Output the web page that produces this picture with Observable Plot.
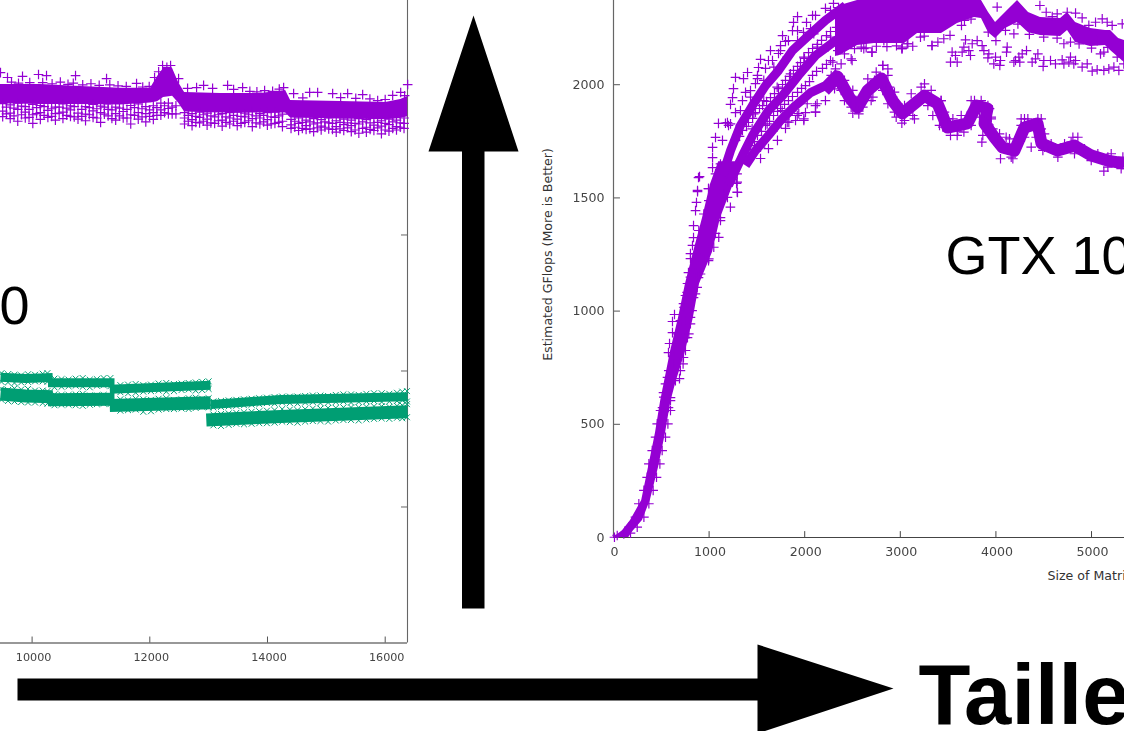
<!DOCTYPE html>
<html>
<head>
<meta charset="utf-8">
<script src="https://cdn.jsdelivr.net/npm/d3@7"></script>
<script src="https://cdn.jsdelivr.net/npm/@observablehq/plot@0.6"></script>
<style>
html,body{margin:0;padding:0;background:#fff;width:1124px;height:731px;overflow:hidden}
#page{position:relative;width:1124px;height:731px;overflow:hidden}
#page svg{position:absolute;left:0;top:0}
</style>
</head>
<body>
<div id="page"></div>
<script>
const violet = "#9400D3", green = "#009E73";
const axisInk = "#444";

// ---- left panel values
const leftXTicks = [10000, 12000, 14000, 16000];
const leftYTicks = [500, 1000, 1500];
// [size, upper edge, lower edge] of the solid violet band
const leftCore = [
  [9463,2053,1982],[10143,2053,1980],[10823,2046,1980],[11503,2039,1978],[12013,2039,1985],
  [12132,2083,1990],[12234,2112,2005],[12387,2112,2010],[12489,2061,1985],[12591,2024,1952],
  [13203,2020,1948],[13883,2020,1948],[14308,2031,1948],[14393,1994,1930],[15243,1991,1926],
  [16008,1987,1924],[16263,1998,1928],[16382,2009,1935]
];
const leftTopMarks = [
  [9463,2097],[9582,2079],[9650,2062],[9769,2058],[9837,2083],[9960,2060],[10109,2090],[10245,2086],
  [10180,2060],[10340,2056],[10480,2062],[10610,2054],[10738,2086],[10700,2058],[10860,2052],[11000,2056],
  [11140,2050],[11265,2075],[11320,2052],[11460,2048],[11600,2046],[11775,2057],[11880,2044],[11990,2046],
  [12081,2079],[12150,2100],[12217,2123],[12353,2123],[12290,2116],[12489,2075],[12642,2039],[12795,2042],
  [12914,2050],[13067,2039],[13322,2050],[13424,2035],[13577,2042],[13700,2028],[13820,2026],[13951,2031],
  [14087,2028],[14200,2036],[14274,2042],[14444,2020],[14716,2024],[14852,2024],[14600,2004],[15107,2020],
  [15243,2005],[15362,2020],[15500,2002],[15617,2016],[15740,2000],[15872,1994],[16000,1998],[16127,2013],
  [16263,2024],[16330,2012],[16382,2053]
];
// [size, gflops...] columns of marks below the solid band
const leftLowColumns = [
  [9500,1983,1955,1935],[9628,1978,1948,1928],[9756,1985,1962,1918],[9884,1972,1952,1930],
  [10012,1980,1942,1910],[10140,1976,1950,1925],[10268,1984,1958,1932],[10396,1970,1946,1922],
  [10524,1982,1952,1928],[10652,1975,1960,1936],[10780,1986,1948,1926],[10908,1972,1944,1920],
  [11036,1980,1956,1932],[11164,1974,1950,1914],[11292,1982,1962,1938],[11420,1970,1946,1922],
  [11548,1984,1954,1930],[11676,1976,1942,1908],[11804,1982,1950,1926],[11932,1972,1946,1916],
  [12060,1975,1950,1925],[12188,1985,1960,1940],[12316,1985,1965,1945],[12444,1975,1945],
  [12590,1950,1930,1908],[12718,1946,1924,1902],[12846,1952,1932,1912],[12974,1948,1926,1904],
  [13102,1954,1934,1910],[13230,1946,1922,1900],[13358,1950,1930,1908],[13486,1952,1926,1902],
  [13614,1948,1934,1914],[13742,1954,1928,1898],[13870,1946,1930,1908],[13998,1950,1924,1904],
  [14126,1952,1932,1910],[14254,1944,1918,1898],
  [14400,1925,1905,1892],[14528,1930,1910,1884],[14656,1922,1902,1888],[14784,1928,1908,1880],
  [14912,1924,1900,1886],[15040,1930,1912,1890],[15168,1920,1898,1878],[15296,1926,1906,1884],
  [15424,1922,1902,1880],[15552,1928,1908,1874],[15680,1924,1896,1878],[15808,1930,1904,1884],
  [15936,1920,1900,1872],[16064,1926,1906,1882],[16192,1922,1898,1886],[16320,1930,1910,1892]
];
const leftLowColumnsB = [
  [9564,1970,1945],[9692,1966,1938],[9820,1974,1942],[9948,1962,1932],[10076,1968,1946],
  [10204,1972,1940],[10332,1964,1936],[10460,1970,1948],[10588,1966,1940],[10716,1972,1934],
  [10844,1962,1936],[10972,1968,1942],[11100,1964,1930],[11228,1970,1944],[11356,1960,1928],
  [11484,1966,1938],[11612,1962,1930],[11740,1968,1940],[11868,1964,1934],[11996,1960,1936],
  [12120,1968,1940],[12250,1975,1950],[12380,1970,1945],
  [12654,1940,1918],[12782,1936,1914],[12910,1942,1918],[13038,1938,1912],[13166,1942,1920],
  [13294,1934,1914],[13422,1940,1918],[13550,1936,1910],[13678,1942,1920],[13806,1938,1912],
  [13934,1940,1916],[14062,1934,1908],[14190,1938,1914],
  [14464,1918,1896],[14592,1914,1892],[14720,1916,1890],[14848,1912,1894],[14976,1916,1896],
  [15104,1910,1888],[15232,1914,1890],[15360,1912,1894],[15488,1910,1886],[15616,1916,1892],
  [15744,1912,1888],[15872,1914,1894],[16000,1910,1886],[16128,1916,1892],[16256,1912,1896]
];
// polylines of the two green bands, broken at each step
const greenUpperBands = [
  [[9463,977],[9888,972],[10350,976]],
  [[10270,957],[11400,957]],
  [[11320,933],[13033,948]],
  [[13033,877],[14223,895],[16382,905]]
];
const greenLowerBands = [
  [[9463,915],[9888,908],[10350,905]],
  [[10270,894],[11400,896]],
  [[11320,873],[13033,883]],
  [[12960,820],[14223,833],[16382,850]]
];
// [size, top of upper, foot of upper, top of lower, foot of lower]
const greenColumns = [
  [9480,992,960,934,894],[9700,986,956,936,888],[9930,988,960,934,884],[10180,990,962,928,882],
  [10380,972,940,914,874],[10620,968,944,912,876],[10860,974,942,916,872],[11100,970,946,910,878],
  [11330,974,944,908,878],
  [11500,948,922,896,854],[11760,952,920,898,858],[12020,950,926,894,852],[12280,956,924,900,860],
  [12540,954,930,896,862],[12780,958,928,902,864],[13000,962,934,900,866],
  [13080,888,866,840,800],[13340,892,870,844,802],[13600,896,874,848,804],[13860,900,878,852,808],
  [14120,904,880,856,810],[14380,906,882,858,812],[14640,908,884,860,814],[14900,910,882,862,816],
  [15160,912,886,864,818],[15420,914,884,866,820],[15680,916,888,868,822],[15940,918,886,870,826],
  [16200,920,890,872,828],[16370,926,888,878,830]
];
const greenColumnsB = [
  [9590,988,958,930,890],[9815,984,958,932,886],[10050,986,962,928,884],[10260,992,960,926,880],
  [10500,970,942,912,876],[10740,972,946,914,874],[10980,968,940,910,876],[11215,974,948,912,880],
  [11630,950,918,892,856],[11890,948,924,896,850],[12150,954,928,898,858],[12410,952,926,894,860],
  [12660,956,932,900,860],[12890,960,930,898,868],
  [13210,890,868,842,798],[13470,894,872,846,806],[13730,898,876,850,806],[13990,902,882,854,808],
  [14250,906,884,860,814],[14510,906,880,856,810],[14770,910,886,862,816],[15030,908,884,864,814],
  [15290,914,888,866,820],[15550,912,886,866,818],[15810,918,890,870,824],[16070,916,888,868,824],
  [16290,924,892,874,826]
];

// ---- right panel values
const rightXTicks = [0, 1000, 2000, 3000, 4000, 5000];
const rightYTicks = [0, 500, 1000, 1500, 2000];
// [gflops, left size, right size] of the rising ribbon
const riseRibbon = [
  [0,0,160],[30,94,209],[75,178,303],[163,295,385],[309,366,471],[460,439,544],[600,492,600],
  [680,530,650],[820,596,753],[970,680,835],[1120,753,900],[1260,837,1036],[1410,931,1119],
  [1560,1015,1255],[1660,1100,1330]
];
const riseEdgeMarks = [
  [900,1594],[879,1528],[994,1541],[868,1480],[858,1444],[837,1378],[837,1325],[826,1290],[805,1254],
  [805,1232],[784,1170],[774,1122],[753,1069],[732,1033],[638,985],[617,954],[617,905],[586,857],
  [575,817],[565,707],[523,640],[513,574],[1297,1524],[1287,1564],[1192,1502],[1119,1413],[1067,1343],
  [994,1223],[941,1223],[889,1148],[837,1060],[805,972],[774,883],[732,795],[690,702],[596,618],[575,574],
  [1067,1606],[1119,1650],[1293,1606],[1328,1665],[1189,1577],[997,1488],[1154,1518],[1223,1459],
  [945,1429],[1119,1400],[1101,1326],[892,1356],[910,1282],[1049,1282],[857,1253],[997,1231],[857,1186],
  [910,1164],[805,1150],[875,1105],[770,1083],[857,1076],[735,1017],[822,1002],[700,958],[805,944],
  [666,899],[788,899],[648,826],[753,826],[631,767],[728,767],[578,737],[700,737],[544,679],[648,693],
  [526,620],[596,605],
  [492,561],[596,561],[457,502],[569,502],[440,443],[544,443],[405,384],[509,384],[370,325],[485,325],
  [352,266],[450,266],[318,208],[415,208],[265,149],[370,149],[230,90],[318,90],[161,46],[248,46],
  [39,9],[108,16],[178,19],[10,1]
];
const massMarks = [
  [2301,2359],[2354,2341],[2270,2328],[2510,2341],[1925,2301],[2082,2306],[1883,2275],[1872,2239],
  [2061,2248],[2165,2262],[1768,2217],[1799,2191],[1747,2173],[1925,2195],[1987,2231],[1642,2151],
  [1538,2112],[1621,2107],[1726,2138],[1517,2076],[1402,2054],[1276,2032],[1255,1983],[1245,1943],
  [1224,1913],[1360,2027],[1381,1966],[1506,2041],[1485,2005],[1098,1829],[1192,1833],[1067,1767],
  [1036,1723],[1036,1678],[1036,1634],[889,1590],[879,1533],[994,1541],
  [1468,1871],[1572,1930],[1712,1989],[1851,2048],[1991,2122],[2130,2166],[2270,2210],[2409,2247],
  [2584,2284],[1328,1886],[1433,1945],[1572,2019],[1677,2078],[1816,2122],[1956,2181],[2095,2225],
  [1834,1864],[1938,1872],[1991,1842],[2113,1879],[1834,1835],[1224,1827],[1171,1830],[1328,1820],
  [1450,1805],[1607,1827],[1764,1886],[2026,1916],[2130,1916],[2235,1997],[2322,2070],[2496,2107],
  [2618,2159],[2705,2144],[3019,2166],[2828,2195],[1922,1864],[1817,1835],[1712,1813],[1991,1849],
  [2113,1879],[1294,1526],[1294,1570],[1416,1695],[1538,1724],
  [1276,1754],[1349,1798],[1412,1833],[1485,1877],[1559,1908],[1642,1943],[1726,1983],[1799,2019],
  [1883,2063],[1956,2098],[2040,2142],[2134,2178],[2228,2217],[2333,2253],
  [1433,1731],[1506,1776],[1590,1820],[1674,1864],[1747,1895],[1830,1930],[1925,1966],[2008,1996],
  [2082,2041],[2186,2072],[2270,2107],
  [1140,1754],[1203,1820],[1276,1877],[1349,1930],[1433,1974],[1506,2027],[1590,2072],[1663,2107],
  [1747,2151],[1830,2195],[1925,2239],[2019,2275],[2113,2306],[2217,2337],
  [1538,1674],[1621,1718],[1715,1754],[1799,1807],[1904,1842],[2008,1877],[2113,1908],[2217,1930],
  [1318,1772],[1391,1816],[1455,1851],[1527,1895],[1601,1926],[1684,1961],[1768,2001],[1841,2037],
  [1925,2081],[1998,2116],[2082,2160],[2176,2196],[2270,2235],
  [1475,1749],[1548,1794],[1632,1838],[1716,1882],[1789,1913],[1872,1948],[1967,1984],[2050,2014],
  [2124,2059],[2228,2090]
];
const streakLines = [
  [[1140,1599],[1224,1709],[1328,1820],[1454,1908],[1590,1996],[1726,2063],[1872,2151],[2040,2217],[2217,2284],[2426,2350]],
  [[1203,1555],[1349,1687],[1454,1776],[1621,1886],[1768,1952],[1935,2041],[2113,2129],[2322,2195],[2531,2239]],
  [[1381,1643],[1485,1709],[1621,1776],[1747,1842],[1904,1908],[2061,1965],[2217,1996],[2354,2054]]
];
const lowerBranch = [
  [2207,1974],[2343,2036],[2469,1943],[2552,1899],[2657,1974],[2803,2027],[2918,1930],[3023,1873],
  [3253,1952],[3389,1917],[3494,1811],[3703,1829],[3797,1908],[3912,1895],[3881,1829],[3985,1767],
  [4069,1723],[4194,1709],[4299,1811],[4435,1829],[4477,1740],[4644,1709],[4822,1731],[4999,1687],
  [5167,1665],[5345,1652]
];
const lowerBranchMarks = [
  [2503,1874],[2566,1871],[3016,1830],[3148,1849],[2957,1857],[3340,1864],[3410,1820],[3525,1776],
  [3595,1776],[3665,1791],[3853,1746],[3863,1776],[4048,1673],[4177,1673],[4369,1724],[4491,1710],
  [5129,1618],[4857,1768],[4787,1746],[4439,1849],[4299,1849],[3951,1849],[3776,1930],[3253,2004],
  [3114,1960],[2817,2085],[2870,2070],[2817,1975],[2730,2019],[2416,2019],[2486,1916],[2695,1930],
  [2922,1945],[3427,1930],[3497,1850],[3706,1864],[3933,1894],[3951,1798],[4107,1768],[4264,1820],
  [4474,1805],[4543,1732],[4718,1724],[4962,1687],[5171,1680],[5310,1651],
  [2277,2041],[2399,2011],[2416,1975],[2503,1975],[2538,1930],[2625,1960],[2660,2026],[2748,2056],
  [2870,2041],[2887,1989],[2939,1967],[2974,1916],[3044,1908],[3148,1923],[3218,1989],[3323,1975],
  [3427,1930],[3462,1879],[3550,1849],[3637,1864],[3741,1879],[3741,1930],[3846,1930],[3916,1908],
  [3951,1857],[3968,1805],[4038,1783],[4142,1761],[4264,1849],[4334,1849],[4474,1849],[4508,1783],
  [4578,1739],[4718,1739],[4805,1768],[4927,1717],[5066,1695],[5206,1695],[5328,1680],
  [2312,1982],[2381,1975],[2416,1930],[2486,1901],[2608,1901],[2713,1945],[2852,1982],[2870,1916],
  [2939,1879],[3044,1842],[3131,1864],[3288,1908],[3427,1872],[3445,1813],[3602,1795],[3741,1820],
  [3828,1857],[3916,1827],[4020,1739],[4160,1680],[4229,1754],[4299,1768],[4421,1768],[4508,1724],
  [4648,1680],[4822,1695],[4997,1665],[5171,1636],[5310,1629]
];
// [size, upper edge, lower edge] of the dense upper band
const topMass = [
  [2322,2320,2125],[2374,2350,2130],[2552,2372,2173],[2730,2372,2182],[2908,2372,2182],[3044,2372,2182],
  [3180,2372,2226],[3431,2372,2226],[3598,2372,2270],[3776,2372,2297],[3849,2372,2292],[3923,2319,2230],
  [3996,2275,2204],[4100,2319,2248],[4226,2372,2275],[4341,2319,2230],[4466,2297,2217],[4676,2292,2213],
  [4749,2319,2239],[4833,2275,2186],[4989,2248,2169],[5146,2239,2173],[5199,2239,2151],[5283,2204,2120],
  [5345,2195,2098]
];
const topBandMarks = [
  [3016,2159],[3079,2181],[3330,2173],[3393,2188],[2702,2144],[2643,2163],[2591,2166],[2521,2159],
  [2486,2114],[2416,2136],[2346,2151],[2242,2166],[2294,2100],[2381,2092],[2817,2085],[3671,2284],
  [4013,2343],[4460,2350],[4526,2320],[4641,2313],[4589,2301],[4746,2320],[4833,2316],[4902,2295],
  [5112,2291],[5042,2276],[4972,2262],[5164,2276],[5216,2262],[5321,2269],[4711,2181],[4780,2188],
  [5059,2195],[5094,2136],[5129,2144],[4188,2225],[3211,2210],[3333,2173],[3455,2203],[3072,2181],[3019,2159],
  [2750,2170],[2860,2168],[2960,2172],[3130,2170],[3250,2215],[3520,2218],[3640,2262],[3740,2290],
  [3920,2232],[4000,2195],[4100,2240],[4230,2268],[4350,2222],[4500,2210],[4640,2206],[4870,2180],[5000,2162],[5170,2165]
];
const middleBranchMarks = [
  [3542,2144],[3525,2100],[3595,2100],[3577,2129],[3647,2144],[3682,2198],[3665,2166],[3752,2181],
  [3804,2195],[3734,2129],[3717,2151],[3856,2173],[3874,2151],[3926,2136],[3916,2119],[3996,2122],
  [3978,2092],[4048,2107],[4041,2085],[4118,2166],[4111,2144],[4205,2107],[4188,2100],[4250,2100],
  [4240,2122],[4275,2136],[4320,2151],[4379,2100],[4414,2114],[4439,2136],[4501,2107],[4494,2081],
  [4571,2107],[4623,2092],[4693,2110],[4711,2092],[4780,2122],[4763,2100],[4833,2107],[4815,2092],
  [4902,2078],[4955,2092],[5007,2060],[5059,2066],[5129,2063],[5181,2070],[5234,2078],[5286,2063],
  [5338,2092],[5269,2122],[5321,2129]
];

// ---- annotation layer values, on a sheet measured like the page
const arrowUp = [[461.5,608],[484,608],[484,151],[518,151],[473,15],[428,151],[461.5,151]];
const arrowRight = [[17,678],[757,678],[757,644],[893,688],[757,733],[757,700],[17,700]];
const annotations = [
  {text:"GTX 10", x:945, y:273, size:54, weight:"normal", anchor:"start", font:"Liberation Sans", ink:"#000", rotate:0},
  {text:"0", x:29, y:323, size:54, weight:"normal", anchor:"end", font:"Liberation Sans", ink:"#000", rotate:0},
  {text:"Taille", x:918, y:723, size:85, weight:"bold", anchor:"start", font:"Liberation Sans", ink:"#000", rotate:0},
  {text:"Size of Matrix", x:1047, y:579, size:12.6, weight:"normal", anchor:"start", font:"DejaVu Sans", ink:"#333", rotate:0},
  {text:"Estimated GFlops (More is Better)", x:551, y:254, size:12.6, weight:"normal", anchor:"middle", font:"DejaVu Sans", ink:"#333", rotate:-90}
];

// ---- drawing
const page = document.getElementById("page");
const pts = a => a.map(([x, y]) => ({x, y}));
const columnsToPoints = cols => cols.flatMap(([x, ...ys]) => ys.map(y => ({x, y})));
const sheetStyle = {background:"transparent", overflow:"hidden"};
const softStyle = {...sheetStyle, filter:"blur(0.35px)"};
const plus = {symbol:"plus", r:3.2, stroke:violet, strokeWidth:1.2, fill:"none"};
const band = {strokeLinecap:"butt", strokeLinejoin:"round"};

const leftPlot = Plot.plot({
  width:1124, height:731, marginLeft:0, marginRight:717, marginTop:0, marginBottom:88.5,
  style:{...softStyle, fontFamily:"DejaVu Sans", fontSize:"11.2px"},
  x:{domain:[9463,16379]}, y:{domain:[0,2362], axis:null},
  marks:[
    Plot.axisX(leftXTicks,{tickSize:0, tickPadding:10, tickFormat:d=>String(d), fill:axisInk, dx:1.5, label:null, fontSize:11.2}),
    Plot.ruleX(leftXTicks,{y1:0, y2:22, stroke:"#555", strokeWidth:1}),
    Plot.ruleY(leftYTicks,{x1:16379, x2:16277, stroke:"#666", strokeWidth:1}),
    Plot.ruleX([16379],{stroke:"#666", strokeWidth:1.1}),
    Plot.ruleY([0],{stroke:"#333", strokeWidth:1.1}),
    Plot.areaY(leftCore,{x:d=>d[0], y1:d=>d[1], y2:d=>d[2], fill:violet}),
    Plot.dot(pts(leftTopMarks),{x:"x", y:"y", ...plus}),
    Plot.dot(columnsToPoints(leftLowColumns),{x:"x", y:"y", ...plus}),
    Plot.dot(columnsToPoints(leftLowColumnsB),{x:"x", y:"y", ...plus}),
    ...greenUpperBands.map(b => Plot.line(pts(b),{x:"x", y:"y", stroke:green, strokeWidth:9, ...band})),
    ...greenLowerBands.map(b => Plot.line(pts(b),{x:"x", y:"y", stroke:green, strokeWidth:13, ...band})),
    Plot.dot(columnsToPoints(greenColumns),{x:"x", y:"y", symbol:"times", r:2.8, stroke:green, strokeWidth:1, fill:"none"}),
    Plot.dot(columnsToPoints(greenColumnsB),{x:"x", y:"y", symbol:"times", r:2.8, stroke:green, strokeWidth:1, fill:"none"})
  ]
});

const rightPlot = Plot.plot({
  width:1124, height:731, marginLeft:613, marginRight:0, marginTop:0, marginBottom:194,
  style:{...softStyle, fontFamily:"DejaVu Sans", fontSize:"12.6px"},
  x:{domain:[0,5345]}, y:{domain:[0,2372]},
  marks:[
    Plot.axisX(rightXTicks,{tickSize:0, tickPadding:10, tickFormat:d=>String(d), fill:axisInk, dx:1, label:null, fontSize:12.6}),
    Plot.axisY(rightYTicks,{tickSize:0, tickPadding:9, tickFormat:d=>String(d), fill:axisInk, label:null, fontSize:12.6}),
    Plot.ruleX(rightXTicks.slice(1),{y1:0, y2:26, stroke:"#444", strokeWidth:1}),
    Plot.ruleY(rightYTicks.slice(1),{x1:0, x2:73, stroke:"#555", strokeWidth:1}),
    Plot.ruleX([0],{stroke:"#666", strokeWidth:1.2}),
    Plot.ruleY([0],{stroke:"#444", strokeWidth:1.2}),
    Plot.areaX(riseRibbon,{y:d=>d[0], x1:d=>d[1], x2:d=>d[2], fill:violet}),
    Plot.dot(pts(riseEdgeMarks),{x:"x", y:"y", ...plus}),
    ...streakLines.map(s => Plot.line(pts(s),{x:"x", y:"y", stroke:violet, strokeWidth:9, ...band})),
    Plot.dot(pts(massMarks),{x:"x", y:"y", ...plus}),
    Plot.line(pts(lowerBranch),{x:"x", y:"y", stroke:violet, strokeWidth:12, ...band}),
    Plot.dot(pts(lowerBranchMarks),{x:"x", y:"y", ...plus}),
    Plot.areaY(topMass,{x:d=>d[0], y1:d=>d[1], y2:d=>d[2], fill:violet}),
    Plot.dot(pts(topBandMarks),{x:"x", y:"y", ...plus}),
    Plot.dot(pts(middleBranchMarks),{x:"x", y:"y", ...plus})
  ]
});

const annotationPlot = Plot.plot({
  width:1124, height:731, margin:0,
  style:sheetStyle,
  x:{domain:[0,1124], axis:null}, y:{domain:[0,731], range:[0,731], axis:null},
  marks:[
    Plot.line(pts(arrowUp),{x:"x", y:"y", fill:"#000", stroke:"none"}),
    Plot.line(pts(arrowRight),{x:"x", y:"y", fill:"#000", stroke:"none"}),
    ...annotations.map(a => Plot.text([a],{
      x:"x", y:"y", text:"text", fontSize:a.size, fontWeight:a.weight, fontFamily:a.font,
      textAnchor:a.anchor, lineAnchor:"bottom", fill:a.ink, rotate:a.rotate
    }))
  ]
});

page.append(leftPlot, rightPlot, annotationPlot);
</script>
</body>
</html>
